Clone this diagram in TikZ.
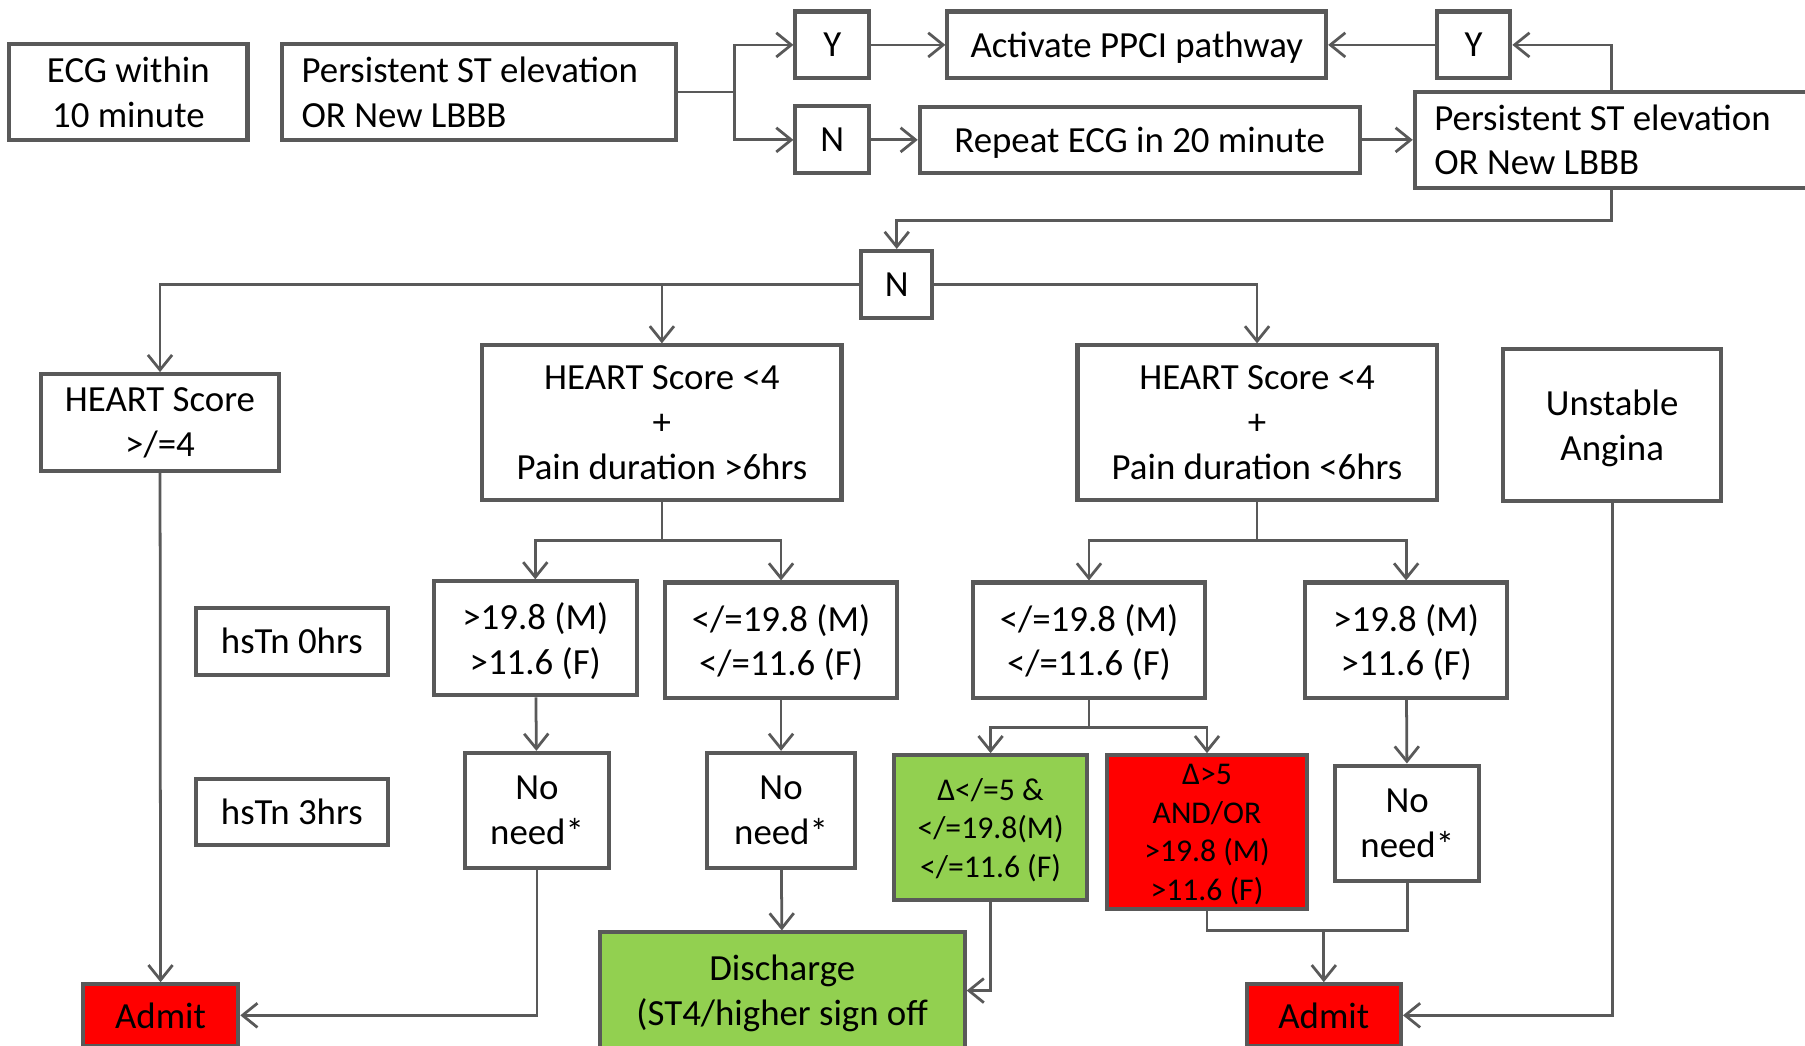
\documentclass[tikz,border=0pt]{standalone}
\usepackage{fontspec}
\setmainfont{Carlito}
\usetikzlibrary{arrows.meta}
\definecolor{linegray}{HTML}{595959}
\definecolor{admitred}{HTML}{FF0000}
\definecolor{okgreen}{HTML}{92D050}
\begin{document}
\begin{tikzpicture}[x=1pt,y=-1pt,
  box/.style={draw=linegray,line width=3.5pt,fill=white,align=center,inner sep=0pt,text depth=0pt,font=\fontsize{32}{39}\selectfont},
  leftbox/.style={box,align=flush left,text width=308pt,text depth={},inner xsep=17pt},
  smallbox/.style={box,font=\fontsize{27.5}{33.5}\selectfont},
  arr/.style={draw=linegray,line width=2.4pt,-{Straight Barb[length=13pt,width=21pt]}},
  line/.style={draw=linegray,line width=2.4pt}]
  \useasboundingbox (0,0) rectangle (1568,908);
  \node[box,minimum width=207pt,minimum height=84pt] (ecg) at (111.5,80) {ECG within\\10 minute};
  \node[leftbox,minimum height=84pt] (p1) at (416,80) {Persistent ST elevation\\OR New LBBB};
  \node[box,minimum width=64pt,minimum height=58pt] (y1) at (723,39) {Y};
  \node[box,minimum width=64pt,minimum height=58pt] (n1) at (723,121.5) {N};
  \node[box,minimum width=329pt,minimum height=58pt] (ppci) at (987.5,39) {Activate PPCI pathway};
  \node[box,minimum width=382pt,minimum height=57pt] (rep) at (990,121.5) {Repeat ECG in 20 minute};
  \node[box,minimum width=64pt,minimum height=58pt] (y2) at (1280,39) {Y};
  \node[leftbox,minimum height=83pt] (p2) at (1400,121.5) {Persistent ST elevation\\OR New LBBB};
  \node[box,minimum width=62pt,minimum height=58pt] (n2) at (779,247) {N};
  \node[box,minimum width=206pt,minimum height=84pt] (h1) at (139,367) {HEART Score\\>/=4};
  \node[box,minimum width=312pt,minimum height=134pt] (h2) at (575,367) {HEART Score <4\\+\\Pain duration >6hrs};
  \node[box,minimum width=312pt,minimum height=134pt] (h3) at (1092,367) {HEART Score <4\\+\\Pain duration <6hrs};
  \node[box,minimum width=189pt,minimum height=132pt] (ua) at (1400.5,369) {Unstable\\Angina};
  \node[box,minimum width=167pt,minimum height=58pt] (t0) at (253.5,557) {hsTn 0hrs};
  \node[box,minimum width=167pt,minimum height=57pt] (t3) at (253.5,705.5) {hsTn 3hrs};
  \node[box,minimum width=176pt,minimum height=99pt] (a) at (465,554.5) {>19.8 (M)\\>11.6 (F)};
  \node[box,minimum width=201pt,minimum height=100pt] (b) at (678.5,556) {</=19.8 (M)\\</=11.6 (F)};
  \node[box,minimum width=202pt,minimum height=100pt] (c) at (946,556) {</=19.8 (M)\\</=11.6 (F)};
  \node[box,minimum width=175pt,minimum height=100pt] (d) at (1221.5,556) {>19.8 (M)\\>11.6 (F)};
  \node[box,minimum width=125pt,minimum height=100pt] (nn1) at (466.5,704) {No\\need*};
  \node[box,minimum width=129pt,minimum height=100pt] (nn2) at (678.5,704) {No\\need*};
  \node[smallbox,fill=okgreen,minimum width=167pt,minimum height=126pt] (gr) at (860.5,719) {Δ</=5 \&\\</=19.8(M)\\</=11.6 (F)};
  \node[smallbox,fill=admitred,minimum width=173pt,minimum height=134pt] (rd) at (1048.5,723) {Δ>5\\AND/OR\\>19.8 (M)\\>11.6 (F)};
  \node[box,minimum width=125pt,minimum height=100pt] (nn3) at (1222.5,715) {No\\need*};
  \node[box,fill=okgreen,minimum width=317pt,minimum height=101pt] (dis) at (679.5,860.5) {Discharge\\(ST4/higher sign off};
  \node[box,fill=admitred,minimum width=135pt,minimum height=54pt] (ad1) at (139.5,882) {Admit};
  \node[box,fill=admitred,minimum width=134pt,minimum height=54pt] (ad2) at (1150,882) {Admit};
  \coordinate (sp1) at (638,80);
  \draw[line] (p1.east) -- (sp1);
  \draw[arr] (sp1) |- (y1.west);
  \draw[arr] (sp1) |- (n1.west);
  \draw[arr] (y1) -- (ppci);
  \draw[arr] (n1) -- (rep);
  \draw[arr] (rep) -- (p2);
  \draw[arr] (y2) -- (ppci);
  \draw[arr] (p2.north) |- (y2.east);
  \draw[arr] (p2.south) -- ++(0,27) -| (n2.north);
  \draw[arr] (n2.west) -| (h1.north);
  \draw[arr] (n2.west) -| (h2.north);
  \draw[arr] (n2.east) -| (h3.north);
  \draw[arr] (h2.south) -- ++(0,34) -| (a.north);
  \draw[arr] (h2.south) -- ++(0,34) -| (b.north);
  \draw[arr] (h3.south) -- ++(0,34) -| (c.north);
  \draw[arr] (h3.south) -- ++(0,34) -| (d.north);
  \draw[arr] (a) -- (nn1);
  \draw[arr] (b) -- (nn2);
  \draw[arr] (c.south) -- ++(0,24) -| (gr.north);
  \draw[arr] (c.south) -- ++(0,24) -| (rd.north);
  \draw[arr] (d) -- (nn3);
  \draw[arr] (nn2) -- (dis);
  \draw[arr] (gr.south) |- (dis.east);
  \draw[arr] (h1) -- (ad1);
  \draw[arr] (nn1.south) |- (ad1.east);
  \coordinate (jn) at (1150,808);
  \draw[line] (rd.south) |- (jn) -| (nn3.south);
  \draw[arr] (jn) -- (ad2);
  \draw[arr] (ua.south) |- (ad2.east);
\end{tikzpicture}
\end{document}
